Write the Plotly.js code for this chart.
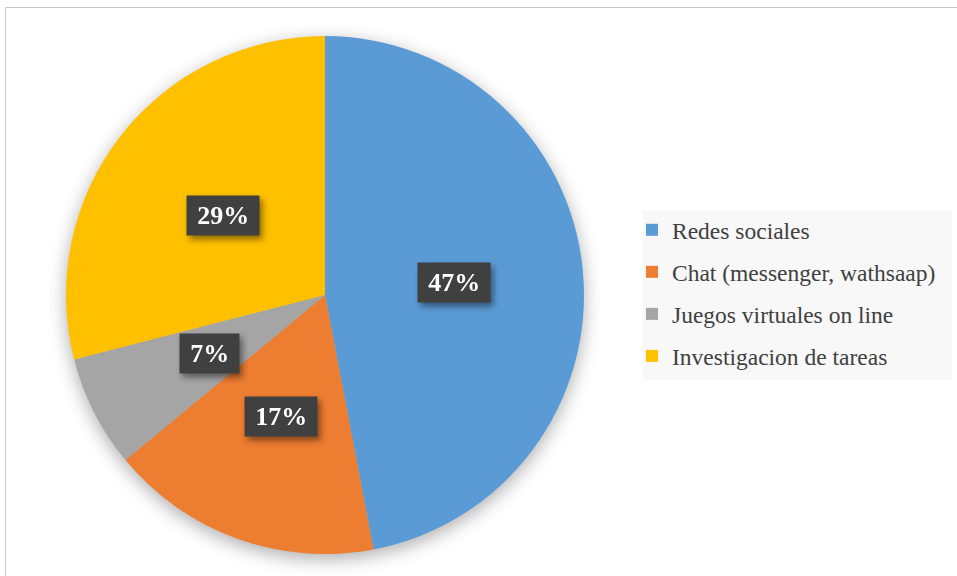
<!DOCTYPE html>
<html>
<head>
<meta charset="utf-8">
<script src="https://cdn.plot.ly/plotly-3.0.1.min.js"></script>
<style>
  html, body { margin: 0; padding: 0; background: #fff; }
  #chart { width: 957px; height: 576px; }
  .pielayer { filter: drop-shadow(0px 5px 9px rgba(0,0,0,0.32)); }
  .annotation-text-g { filter: drop-shadow(3px 4px 3px rgba(0,0,0,0.45)); }
</style>
</head>
<body>
<div id="chart"></div>
<script>
// ---- data ----
const categories = ["Redes sociales", "Chat (messenger, wathsaap)", "Juegos virtuales on line", "Investigacion de tareas"];
const values = [47, 17, 7, 29];
const labelTexts = ["47%", "17%", "7%", "29%"];
const colors = ["#5B9BD5", "#ED7D31", "#A5A5A5", "#FFC000"];

// ---- layout constants ----
const W = 957, H = 576;
const cxPx = 325, cyPx = 295, Rpx = 259;
const domX = [(cxPx - Rpx) / W, (cxPx + Rpx) / W];
const domY = [(H - cyPx - Rpx) / H, (H - cyPx + Rpx) / H];
const FONT = "Liberation Serif, Times New Roman, serif";

const pie = {
  type: "pie",
  labels: categories,
  values: values,
  sort: false,
  direction: "clockwise",
  rotation: 0,
  marker: { colors: colors, line: { width: 0 } },
  textinfo: "none",
  hoverinfo: "label+percent",
  showlegend: false,
  domain: { x: domX, y: domY }
};

// legend entries (dummy traces so item spacing can be controlled)
const legendTraces = categories.map((c, i) => ({
  type: "scatter",
  mode: "markers",
  x: [null], y: [null],
  name: c,
  legendgroup: "g" + i,
  marker: { symbol: "square", size: 12, color: colors[i], line: { width: 0 } },
  hoverinfo: "skip"
}));

// label annotations placed at slice mid-angles
const total = values.reduce((a, b) => a + b, 0);
let cum = 0;
const annotations = values.map((v, i) => {
  const theta = 2 * Math.PI * (cum + v / 2) / total;
  cum += v;
  const r = 0.5 * Rpx;
  const cxP = (domX[0] + domX[1]) / 2, cyP = (domY[0] + domY[1]) / 2;
  return {
    xref: "paper", yref: "paper",
    x: cxP + (r / W) * Math.sin(theta),
    y: cyP + (r / H) * Math.cos(theta),
    xanchor: "center", yanchor: "middle",
    showarrow: false,
    text: "<b>&#8201;" + labelTexts[i] + "&#8201;</b>",
    font: { family: FONT, size: 26, color: "#ffffff" },
    bgcolor: "#404040",
    borderpad: 5
  };
});

const layout = {
  width: W, height: H,
  margin: { l: 0, r: 0, t: 0, b: 0 },
  paper_bgcolor: "#ffffff",
  plot_bgcolor: "rgba(0,0,0,0)",
  font: { family: FONT, color: "#404040" },
  xaxis: { visible: false },
  yaxis: { visible: false },
  showlegend: true,
  legend: {
    x: 632 / W, xanchor: "left",
    y: 1 - 208 / H, yanchor: "top",
    bgcolor: "rgba(0,0,0,0)",
    font: { family: FONT, size: 23.5, color: "#404040" },
    tracegroupgap: 8.5,
    itemclick: false, itemdoubleclick: false
  },
  shapes: [
    { type: "rect", xref: "paper", yref: "paper", layer: "below",
      x0: 5.5 / W, x1: 1.2, y0: -0.2, y1: 1 - 7.5 / H,
      line: { color: "#c6c6c6", width: 1 }, fillcolor: "rgba(0,0,0,0)" },
    { type: "rect", xref: "paper", yref: "paper", layer: "below",
      x0: 643 / W, x1: 952 / W, y0: 1 - 380 / H, y1: 1 - 210 / H,
      line: { width: 0 }, fillcolor: "#f8f8f8" }
  ],
  annotations: annotations
};

Plotly.newPlot("chart", [pie].concat(legendTraces), layout, { displayModeBar: false, staticPlot: false });
</script>
</body>
</html>
